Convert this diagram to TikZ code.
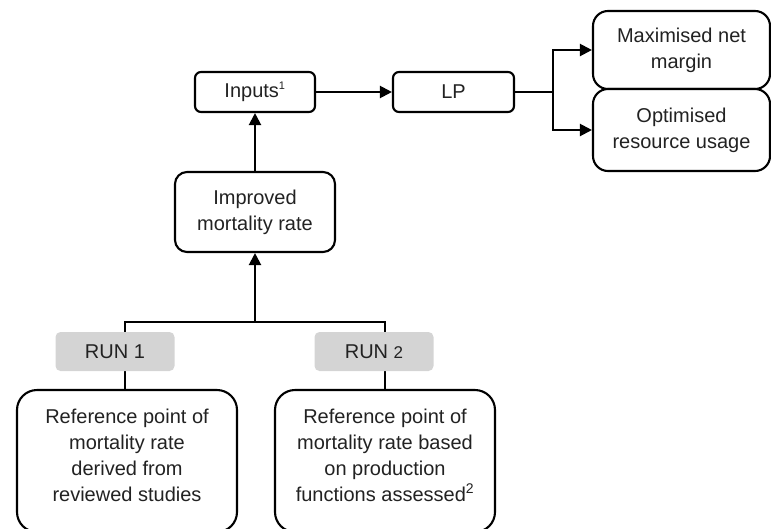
\documentclass[tikz,border=0pt]{standalone}
\usepackage{fontspec}
\setmainfont{Liberation Sans}
\usetikzlibrary{arrows.meta}
\definecolor{txt}{HTML}{222222}
\definecolor{runfill}{HTML}{D4D4D4}
\begin{document}
\begin{tikzpicture}[x=1pt,y=-1pt,
  font=\fontsize{20pt}{26pt}\selectfont,
  every node/.style={text=txt},
  box/.style={draw=black,line width=2.1pt,fill=white,inner sep=0pt,align=center},
  runbox/.style={fill=runfill,rounded corners=5pt,inner sep=0pt,minimum width=119pt,minimum height=39pt},
  conn/.style={line width=2.1pt,draw=black},
  arr/.style={conn,-{Triangle[length=12pt,width=12pt]}},
  ]
\useasboundingbox (0,0) rectangle (771,528);
% boxes
\node[box,rounded corners=6pt,minimum width=120pt,minimum height=40pt] (inputs) at (255,92) {Inputs\textsuperscript{\fontsize{11pt}{11pt}\selectfont 1}};
\node[box,rounded corners=6pt,minimum width=121pt,minimum height=40pt] (lp) at (453.5,92) {LP};
\node[box,rounded corners=15pt,minimum width=177pt,minimum height=78pt] (maxm) at (681.5,50) {Maximised net\\margin};
\node[box,rounded corners=15pt,minimum width=177pt,minimum height=82pt] (opt) at (681.5,130) {Optimised\\resource usage};
\node[box,rounded corners=12pt,minimum width=160pt,minimum height=80pt] (impr) at (255,212) {Improved\\mortality rate};
\node[box,rounded corners=20pt,minimum width=220pt,minimum height=142pt] (ref1) at (127,461) {};
\node[box,rounded corners=20pt,minimum width=220pt,minimum height=142pt] (ref2) at (385,461) {};
\node[align=center,inner sep=0pt] (ref1t) at (127,455) {Reference point of\\mortality rate\\derived from\\reviewed studies};
\node[align=center,inner sep=0pt] (ref2t) at (385,455) {Reference point of\\mortality rate based\\on production\\functions assessed\textsuperscript{\fontsize{14pt}{14pt}\selectfont 2}};
% connectors under run boxes
\coordinate (j) at (255,322);
\coordinate (jl) at (125,322);
\coordinate (jr) at (385,322);
\draw[conn] (ref1.north -| jl) -- (jl) -- (jr) -- (ref2.north -| jr);
\node[runbox] (run1) at (115,351.5) {RUN 1};
\node[runbox] (run2) at (374,351.5) {RUN {\fontsize{17pt}{17pt}\selectfont 2}};
\draw[arr] (j) -- (impr.south);
\draw[arr] (impr.north) -- (inputs.south);
\draw[arr] (inputs.east) -- (lp.west);
\coordinate (s) at (553,92);
\draw[conn] (lp.east) -- (s);
\draw[arr] (s) |- (maxm.west);
\draw[arr] (s) |- (opt.west);
\end{tikzpicture}
\end{document}
